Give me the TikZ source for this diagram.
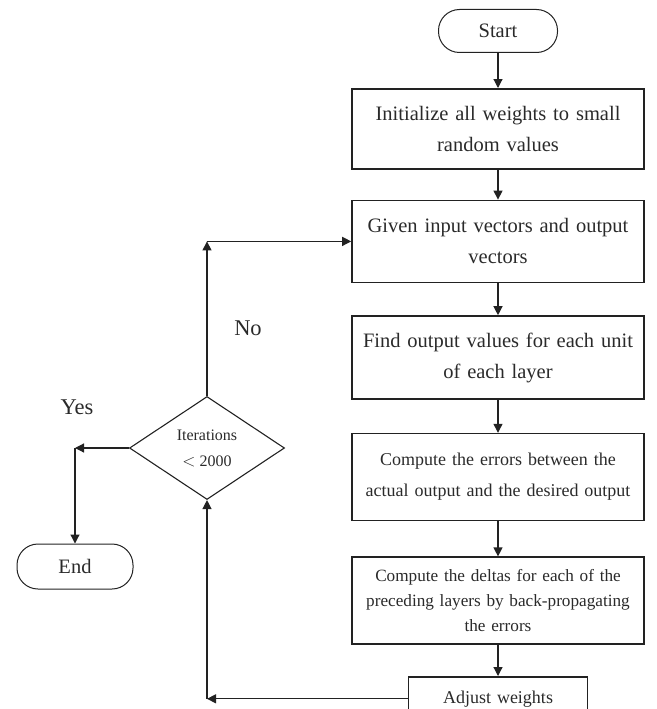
\documentclass[tikz,border=0pt]{standalone}
\usepackage{fontspec}
\setmainfont{Liberation Serif}
\usetikzlibrary{positioning,arrows.meta,shapes.geometric}
\definecolor{INKc}{HTML}{222222}
\definecolor{TXTc}{HTML}{2A2A2A}

\begin{document}
\begin{tikzpicture}[
  x=1pt, y=-1pt,
  % process box: fixed width, height set per node
  procbox/.style={draw=INKc, line width=1.6pt, align=center, inner xsep=8pt,
                  inner ysep=0pt, text width=276pt, text=TXTc,
                  font=\fontsize{20.5}{31}\selectfont},
  % start / end terminal
  termbox/.style={draw=INKc, line width=1.0pt, rounded corners=21pt, align=center,
                  text=TXTc, font=\fontsize{20.5}{24}\selectfont},
  % decision
  decbox/.style={diamond, draw=INKc, line width=1.1pt, inner sep=0pt, align=center,
                 minimum width=155pt, minimum height=103pt, text=TXTc,
                 font=\fontsize{16}{26}\selectfont},
  % yes / no labels
  lbl/.style={text=TXTc, font=\fontsize{22.5}{26}\selectfont},
  % arrow style
  ar/.style={-{Triangle[length=9pt,width=9pt]}, color=INKc, line width=1.2pt},
]
\useasboundingbox (0,0) rectangle (656,709);
\clip (0,0) rectangle (656,709);

% ---------- Main stem ----------
\node[termbox, minimum width=119pt, minimum height=43pt] (START) at (498,31) {Start};
\node[procbox, minimum height=80pt, below=35pt of START] (INIT)
  {Initialize all weights to small\\ random values};
\node[procbox, minimum height=82pt, below=30pt of INIT] (GIV)
  {Given input vectors and output\\ vectors};
\node[procbox, minimum height=83pt, below=32pt of GIV] (FIND)
  {Find output values for each unit\\ of each layer};
\node[procbox, minimum height=87pt, below=33pt of FIND,
      font=\fontsize{18}{31}\selectfont] (ERR)
  {Compute the errors between the\\ actual output and the desired output};
\node[procbox, minimum height=87pt, below=35pt of ERR,
      font=\fontsize{17.2}{25}\selectfont] (DELTA)
  {Compute the deltas for each of the\\ preceding layers by back-propagating\\ the errors};
\node[procbox, text width=163pt, minimum height=44pt, below=31pt of DELTA,
      font=\fontsize{18}{22}\selectfont] (ADJ) {Adjust weights};

\foreach \a/\b in {START/INIT, INIT/GIV, GIV/FIND, FIND/ERR, ERR/DELTA, DELTA/ADJ}
  \draw[ar] (\a.south) -- (\b.north);

% ---------- Decision and end ----------
\node[decbox] (IT) at (207,448) {Iterations\\ $<$ 2000};
\node[termbox, minimum width=116pt, minimum height=45pt] (END) at (75,566.5) {End};

% ---------- Loop back: Adjust -> decision ----------
\coordinate (cB) at (IT.south |- ADJ.west);
\draw[ar] (ADJ.west) -- (cB);
\draw[ar] (cB) -- (IT.south);

% ---------- No: decision -> Given ----------
\coordinate (cT) at (IT.north |- GIV.west);
\draw[ar] (IT.north) -- (cT);
\draw[ar] (cT) -- (GIV.west);
\node[lbl] (NO) at (248,328) {No};

% ---------- Yes: decision -> End ----------
\coordinate (cY) at (END.north |- IT.west);
\draw[ar] (IT.west) -- (cY);
\draw[ar] (cY) -- (END.north);
\node[lbl] (YES) at (77,407) {Yes};

\end{tikzpicture}
\end{document}
